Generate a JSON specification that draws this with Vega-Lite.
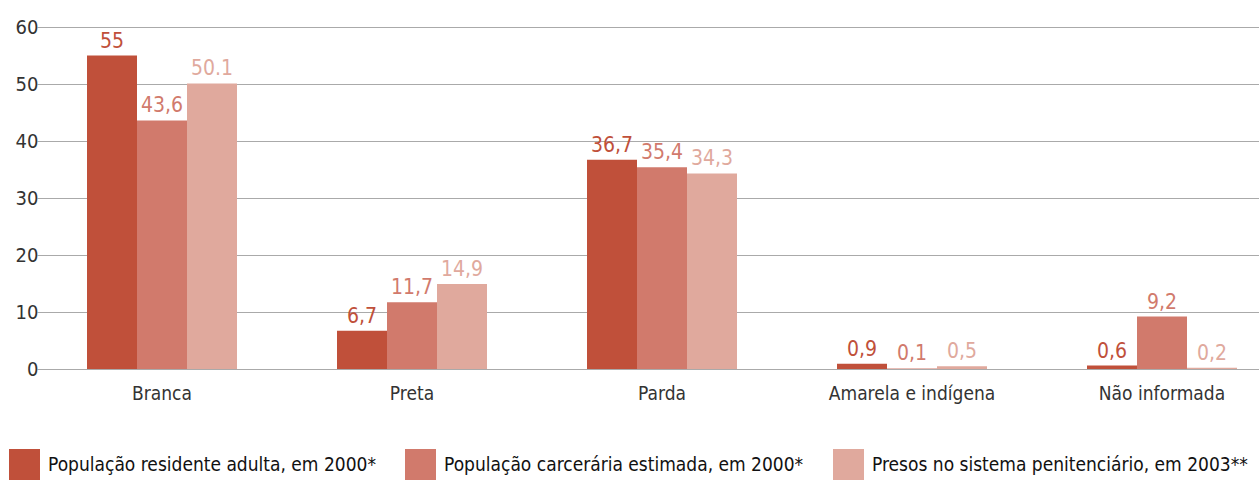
{
  "$schema": "https://vega.github.io/schema/vega-lite/v6.json",
  "width": 1203,
  "height": 342,
  "autosize": {"type": "none"},
  "padding": {"left": 54, "top": 27, "right": 2, "bottom": 113},
  "background": "white",
  "config": {"view": {"stroke": null}, "font": "DejaVu Sans Condensed"},
  "data": {
    "values": [
      {"cat": "Branca", "series": "População residente adulta, em 2000*", "value": 55, "label": "55"},
      {"cat": "Branca", "series": "População carcerária estimada, em 2000*", "value": 43.6, "label": "43,6"},
      {"cat": "Branca", "series": "Presos no sistema penitenciário, em 2003**", "value": 50.1, "label": "50.1"},
      {"cat": "Preta", "series": "População residente adulta, em 2000*", "value": 6.7, "label": "6,7"},
      {"cat": "Preta", "series": "População carcerária estimada, em 2000*", "value": 11.7, "label": "11,7"},
      {"cat": "Preta", "series": "Presos no sistema penitenciário, em 2003**", "value": 14.9, "label": "14,9"},
      {"cat": "Parda", "series": "População residente adulta, em 2000*", "value": 36.7, "label": "36,7"},
      {"cat": "Parda", "series": "População carcerária estimada, em 2000*", "value": 35.4, "label": "35,4"},
      {"cat": "Parda", "series": "Presos no sistema penitenciário, em 2003**", "value": 34.3, "label": "34,3"},
      {"cat": "Amarela e indígena", "series": "População residente adulta, em 2000*", "value": 0.9, "label": "0,9"},
      {"cat": "Amarela e indígena", "series": "População carcerária estimada, em 2000*", "value": 0.1, "label": "0,1"},
      {"cat": "Amarela e indígena", "series": "Presos no sistema penitenciário, em 2003**", "value": 0.5, "label": "0,5"},
      {"cat": "Não informada", "series": "População residente adulta, em 2000*", "value": 0.6, "label": "0,6"},
      {"cat": "Não informada", "series": "População carcerária estimada, em 2000*", "value": 9.2, "label": "9,2"},
      {"cat": "Não informada", "series": "Presos no sistema penitenciário, em 2003**", "value": 0.2, "label": "0,2"}
    ]
  },
  "encoding": {
    "x": {
      "field": "cat",
      "type": "nominal",
      "sort": ["Branca", "Preta", "Parda", "Amarela e indígena", "Não informada"],
      "scale": {"range": [-17, 1233], "paddingInner": 0.4, "paddingOuter": 0.2},
      "axis": {
        "title": null,
        "domain": false,
        "ticks": false,
        "labelAngle": 0,
        "labelPadding": 15,
        "labelFontSize": 19,
        "labelColor": "#333333",
        "labelFont": "DejaVu Sans Condensed"
      }
    },
    "xOffset": {
      "field": "series",
      "sort": ["População residente adulta, em 2000*", "População carcerária estimada, em 2000*", "Presos no sistema penitenciário, em 2003**"],
      "scale": {"paddingInner": 0, "paddingOuter": 0}
    },
    "y": {
      "field": "value",
      "type": "quantitative",
      "scale": {"domain": [0, 60], "nice": false},
      "axis": {
        "title": null,
        "values": [0, 10, 20, 30, 40, 50, 60],
        "grid": true,
        "gridColor": "#aaaaaa",
        "gridWidth": 1,
        "domain": false,
        "ticks": false,
        "labelPadding": 16,
        "labelFontSize": 20,
        "labelColor": "#333333",
        "labelFont": "DejaVu Sans Condensed"
      }
    },
    "color": {
      "field": "series",
      "type": "nominal",
      "sort": ["População residente adulta, em 2000*", "População carcerária estimada, em 2000*", "Presos no sistema penitenciário, em 2003**"],
      "scale": {"range": ["#C0503A", "#D17A6C", "#E0A99D"]},
      "legend": {
        "title": null,
        "orient": "none",
        "legendX": -45,
        "legendY": 422,
        "direction": "horizontal",
        "symbolType": "square",
        "symbolSize": 961,
        "symbolStrokeWidth": 0,
        "symbolOpacity": 1,
        "labelFontSize": 19,
        "labelFont": "DejaVu Sans Condensed",
        "labelColor": "#111111",
        "labelLimit": 600,
        "labelOffset": 8,
        "columnPadding": 29,
        "padding": 0
      }
    }
  },
  "layer": [
    {"mark": {"type": "bar"}},
    {
      "mark": {"type": "text", "baseline": "alphabetic", "dy": -8, "fontSize": 21, "font": "DejaVu Sans Condensed"},
      "encoding": {"text": {"field": "label"}}
    }
  ]
}
